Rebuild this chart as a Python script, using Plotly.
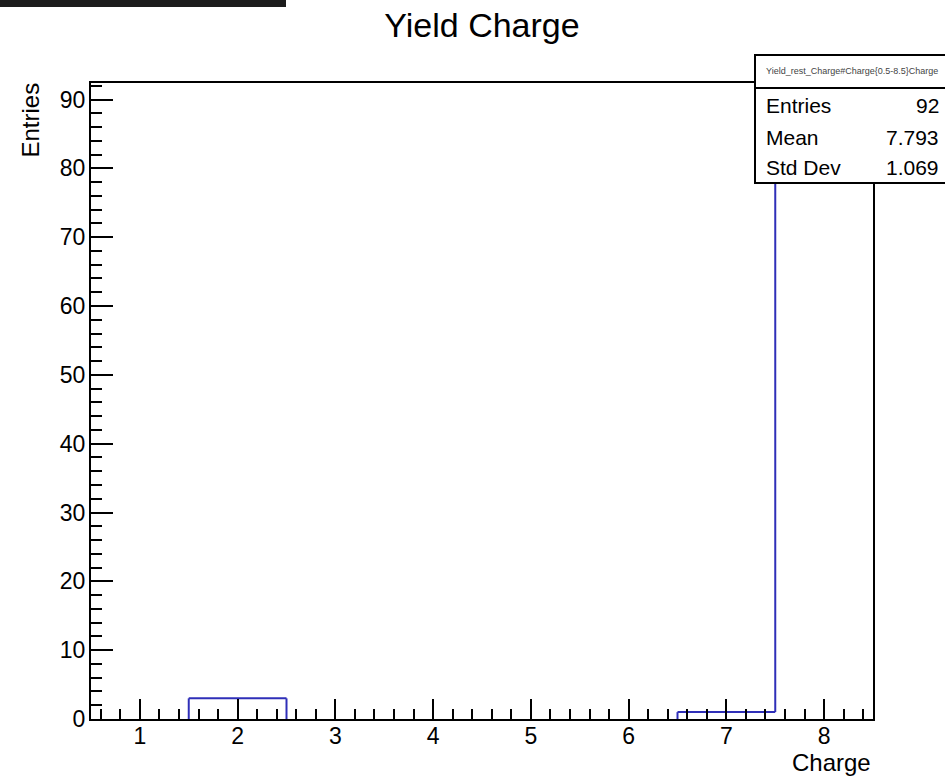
import numpy as np
import plotly.graph_objects as go

# ---- data ----
bin_centers = [1, 2, 3, 4, 5, 6, 7, 8]
counts = [0, 3, 0, 0, 0, 0, 1, 88]
bin_width = 1.0
title_text = "Yield Charge"
x_title = "Charge"
y_title = "Entries"
stats_name = "Yield_rest_Charge#Charge{0.5-8.5}Charge"
stat_labels = ["Entries", "Mean", "Std Dev"]

# ---- derived ----
c = np.array(bin_centers, float)
n = np.array(counts, float)
lo = list(c - bin_width / 2)
hi = list(c + bin_width / 2)
N = n.sum()
mean = (n * c).sum() / N
std = np.sqrt((n * c * c).sum() / N - mean ** 2)
stat_values = [f"{int(N)}", f"{mean:.3f}", f"{std:.3f}"]

# step outline; zero-height parts lie on the axis and are hidden by it (omitted)
step_x, step_y = [], []
for i in range(len(counts)):
    if counts[i] > 0:
        # left vertical edge (only if inside range)
        prev = counts[i - 1] if i > 0 else None
        if prev is not None:
            step_x += [lo[i], lo[i], None]
            step_y += [prev, counts[i], None]
        step_x += [lo[i], hi[i], None]
        step_y += [counts[i], counts[i], None]
        nxt = counts[i + 1] if i + 1 < len(counts) else None
        if nxt is not None and nxt == 0:
            step_x += [hi[i], hi[i], None]
            step_y += [counts[i], 0, None]

# ---- layout geometry ----
FW, FH = 945, 776
L, R, T, B = 91, 873, 83, 719
PW, PH = R - L, B - T

def px(x):
    return (x - L) / PW

def py(y):
    return (B - y) / PH

ymax = max(counts) * 1.05

fig = go.Figure()
fig.add_trace(go.Scatter(
    x=step_x, y=step_y, mode="lines",
    line=dict(color="#2f2fb8", width=2),
    connectgaps=False, cliponaxis=True,
    hoverinfo="skip", showlegend=False,
))

font_family = "Liberation Sans, Arial, Helvetica, sans-serif"

axis_common = dict(
    showline=True, linecolor="black", linewidth=2, mirror=True,
    ticks="inside", tickcolor="black", tickwidth=2,
    showgrid=False, zeroline=False,
    tickfont=dict(family=font_family, size=23, color="black"),
)

fig.update_layout(
    width=FW, height=FH,
    margin=dict(l=L, r=FW - R, t=T, b=FH - B, pad=0),
    paper_bgcolor="white", plot_bgcolor="white",
    title=dict(text=title_text, x=482 / FW, xanchor="center",
               y=1 - 25 / FH, yanchor="middle", xref="container", yref="container",
               font=dict(family=font_family, size=34, color="black")),
    xaxis=dict(range=[lo[0], hi[-1]], dtick=1, tick0=0, ticklen=20,
               minor=dict(dtick=0.2, tick0=0, ticks="inside", ticklen=10,
                          tickwidth=2, tickcolor="black"),
               ticklabelstandoff=-5,
               **axis_common),
    yaxis=dict(range=[0, ymax], dtick=10, tick0=0, ticklen=22,
               minor=dict(dtick=2, tick0=0, ticks="inside", ticklen=11,
                          tickwidth=2, tickcolor="black"),
               ticklabelstandoff=-1,
               **axis_common),
)

shapes = []
annotations = []

# black strip at top-left
shapes.append(dict(type="rect", xref="paper", yref="paper",
                   x0=px(0), x1=px(286), y0=py(0), y1=py(7),
                   fillcolor="#1c1c1c", line=dict(width=0), layer="above"))

# stats box
shapes.append(dict(type="rect", xref="paper", yref="paper",
                   x0=px(755), x1=px(955), y0=py(55), y1=py(183),
                   fillcolor="white", line=dict(color="black", width=2), layer="above"))
shapes.append(dict(type="line", xref="paper", yref="paper",
                   x0=px(755), x1=px(955), y0=py(88), y1=py(88),
                   line=dict(color="black", width=2), layer="above"))

annotations.append(dict(text=stats_name, xref="paper", yref="paper",
                        x=px(852), y=py(71), xanchor="center", yanchor="middle",
                        showarrow=False,
                        font=dict(family=font_family, size=9, color="#444")))
row_y = [105, 137, 167]
for lab, val, yy in zip(stat_labels, stat_values, row_y):
    annotations.append(dict(text=lab, xref="paper", yref="paper",
                            x=px(764), y=py(yy), xanchor="left", yanchor="middle",
                            showarrow=False,
                            font=dict(family=font_family, size=21, color="black")))
    annotations.append(dict(text=val, xref="paper", yref="paper",
                            x=px(941), y=py(yy), xanchor="right", yanchor="middle",
                            showarrow=False,
                            font=dict(family=font_family, size=21, color="black")))

# axis titles
annotations.append(dict(text=x_title, xref="paper", yref="paper",
                        x=px(873), y=py(762), xanchor="right", yanchor="middle",
                        showarrow=False,
                        font=dict(family=font_family, size=24, color="black")))
annotations.append(dict(text=y_title, xref="paper", yref="paper",
                        x=px(30), y=py(81), xanchor="center", yanchor="top",
                        textangle=-90, showarrow=False,
                        font=dict(family=font_family, size=24, color="black")))

fig.update_layout(shapes=shapes, annotations=annotations)
fig.write_html("out.html")
